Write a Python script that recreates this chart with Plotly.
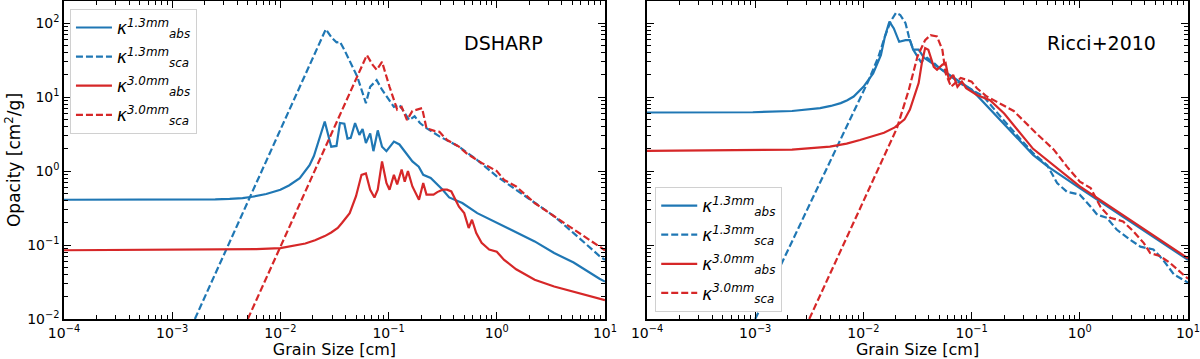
import plotly.graph_objects as go

# ---------------- data ---------------- #

# DSHARP opacities [cm^2/g] vs grain size [cm]
dsharp_abs13_a = [1e-4, 1.5e-3, 2.5e-3, 3.4e-3, 4.47e-3, 5.5e-3, 7.4e-3, 1e-2, 1.2e-2, 1.51e-2,
                  1.86e-2, 2.04e-2, 2.24e-2, 2.57e-2, 2.95e-2, 3.3e-2, 3.55e-2, 3.9e-2, 4.17e-2, 4.47e-2,
                  4.9e-2, 5.37e-2, 5.75e-2, 6.17e-2, 6.76e-2, 7.24e-2, 7.94e-2, 8.7e-2, 9.55e-2, 0.112,
                  0.126, 0.145, 0.166, 0.19, 0.209, 0.245, 0.275, 0.316, 0.363, 0.48,
                  0.66, 1.0, 1.51, 2.24, 3.39, 5.13, 8.9, 10.0]
dsharp_abs13_k = [0.41, 0.41, 0.415, 0.42, 0.43, 0.45, 0.49, 0.56, 0.64, 0.8,
                  1.2, 1.6, 2.4, 4.68, 2.14, 2.19, 4.47, 4.37, 2.75, 2.82,
                  4.47, 3.09, 3.72, 2.4, 3.24, 1.86, 3.55, 2.14, 1.86, 2.51,
                  2.29, 1.74, 1.35, 1.15, 0.89, 0.81, 0.69, 0.56, 0.44, 0.37,
                  0.27, 0.20, 0.15, 0.112, 0.078, 0.058, 0.035, 0.032]

dsharp_sca13_a = [1.62e-3, 2.63e-2, 3.0e-2, 3.3e-2, 3.55e-2, 3.9e-2, 5.13e-2, 6.17e-2, 6.76e-2, 7.76e-2,
                  8.7e-2, 0.112, 0.126, 0.155, 0.174, 0.195, 0.224, 0.295, 0.447, 0.66,
                  1.0, 1.51, 2.24, 3.39, 5.13, 8.9, 10.0]
dsharp_sca13_k = [0.01, 83, 63, 55, 56, 43.7, 19, 8.3, 13.8, 17,
                  12.6, 7.4, 7.9, 4.9, 5.5, 4.47, 3.8, 2.95, 2.14, 1.41,
                  0.85, 0.56, 0.37, 0.245, 0.145, 0.071, 0.063]

dsharp_abs30_a = [1e-4, 3.4e-3, 6e-3, 1e-2, 1.32e-2, 1.7e-2, 2.09e-2, 2.57e-2, 2.95e-2, 3.39e-2,
                  3.72e-2, 4.37e-2, 5.0e-2, 5.62e-2, 6.17e-2, 6.76e-2, 7.4e-2, 7.94e-2, 8.7e-2, 9.55e-2,
                  0.102, 0.112, 0.12, 0.132, 0.141, 0.151, 0.166, 0.191, 0.209, 0.224,
                  0.26, 0.282, 0.316, 0.347, 0.38, 0.447, 0.5, 0.55, 0.59, 0.646,
                  0.724, 0.85, 1.0, 1.17, 1.51, 2.24, 3.39, 5.13, 10.0]
dsharp_abs30_k = [0.085, 0.087, 0.088, 0.091, 0.097, 0.105, 0.116, 0.132, 0.148, 0.17,
                  0.2, 0.27, 0.457, 0.89, 0.93, 0.56, 0.44, 0.56, 1.35, 0.69,
                  0.56, 0.89, 0.66, 1.05, 0.72, 1.0, 0.62, 0.41, 0.69, 0.48,
                  0.48, 0.52, 0.56, 0.56, 0.53, 0.33, 0.27, 0.17, 0.22, 0.145,
                  0.107, 0.087, 0.081, 0.063, 0.047, 0.034, 0.0275, 0.0234, 0.018]

dsharp_sca30_a = [5.0e-3, 6.3e-2, 7.1e-2, 7.76e-2, 8.7e-2, 0.102, 0.12, 0.132, 0.148, 0.166,
                  0.204, 0.224, 0.269, 0.295, 0.347, 0.447, 0.525, 0.724, 1.0, 1.17,
                  1.51, 2.24, 3.39, 5.13, 10.0]
dsharp_sca30_k = [0.01, 37, 27.5, 23.4, 30, 13.8, 6.8, 7.4, 4.9, 6.5,
                  7.1, 3.8, 3.47, 3.4, 2.63, 2.14, 1.74, 1.29, 1.0, 0.76,
                  0.62, 0.37, 0.245, 0.162, 0.085]

# Ricci+2010 opacities
ricci_abs13_a = [1e-4, 9.5e-4, 2.19e-3, 3.16e-3, 3.98e-3, 5.0e-3, 6.17e-3, 7.1e-3, 8.13e-3, 1e-2,
                 1.23e-2, 1.45e-2, 1.58e-2, 1.74e-2, 1.91e-2, 2.14e-2, 2.45e-2, 2.69e-2, 2.88e-2, 3.24e-2,
                 3.63e-2, 0.1, 0.37, 0.5, 1.0, 10.0]
ricci_abs13_k = [6.2, 6.25, 6.5, 6.8, 7.1, 7.6, 8.3, 9.1, 10.2, 13.8,
                 20.9, 37, 66, 105, 85, 56, 59, 59, 44, 44,
                 34, 12.6, 1.66, 1.17, 0.59, 0.063]

ricci_sca13_a = [1e-3, 1e-2, 1.12e-2, 1.38e-2, 1.58e-2, 1.78e-2, 2.0e-2, 2.19e-2, 2.45e-2, 2.63e-2,
                 2.88e-2, 3.39e-2, 3.89e-2, 4.47e-2, 4.9e-2, 6.17e-2, 7.76e-2, 0.1, 0.129, 0.19,
                 0.37, 0.5, 0.617, 0.76, 1.0, 1.26, 1.45, 1.78, 2.19, 2.95,
                 3.63, 4.79, 5.89, 7.41, 10.0]
ricci_sca13_k = [0.01, 11.7, 17, 35.5, 66, 105, 138, 129, 100, 66,
                 44, 30, 34, 29, 25.7, 20, 15.5, 12.6, 10.2, 5.2,
                 1.75, 1.2, 0.69, 0.525, 0.48, 0.33, 0.257, 0.234, 0.162, 0.117,
                 0.095, 0.087, 0.063, 0.040, 0.031]

ricci_abs30_a = [1e-4, 2.19e-3, 4.9e-3, 7e-3, 9.3e-3, 1.2e-2, 1.55e-2, 1.95e-2, 2.4e-2, 2.69e-2,
                 3.02e-2, 3.24e-2, 3.47e-2, 3.72e-2, 3.98e-2, 4.47e-2, 4.79e-2, 5.37e-2, 5.75e-2, 6.17e-2,
                 6.76e-2, 7.4e-2, 8.13e-2, 8.9e-2, 0.112, 0.148, 0.2, 0.37, 1.0, 10.0]
ricci_abs30_k = [1.88, 1.95, 2.14, 2.35, 2.63, 2.95, 3.3, 3.9, 5.0, 6.8,
                 11, 15.5, 29, 46, 43.7, 25.7, 23.4, 27.5, 29, 17,
                 20, 13.8, 16.2, 13.2, 10.7, 9.1, 6.0, 2.0, 0.62, 0.066]

ricci_sca30_a = [3.16e-3, 2.04e-2, 2.63e-2, 3.16e-2, 3.72e-2, 4.17e-2, 4.79e-2, 5.37e-2, 5.75e-2, 6.46e-2,
                 7.94e-2, 9.1e-2, 0.1, 0.112, 0.138, 0.17, 0.245, 0.4, 0.575, 0.76,
                 1.0, 1.26, 1.55, 1.91, 2.51, 3.16, 3.89, 4.47, 5.5, 6.76, 10.0]
ricci_sca30_k = [0.01, 3.8, 12.6, 35.5, 59, 69, 66, 43.7, 21, 13.8,
                 18.2, 17, 16.2, 13.2, 10.2, 8.7, 6.5, 3.2, 1.95, 1.15,
                 0.72, 0.59, 0.33, 0.234, 0.209, 0.151, 0.107, 0.078, 0.071, 0.058, 0.035]

labels = ["<i>κ</i><sup><i>1.3mm</i></sup><sub><i>abs</i></sub>",
          "<i>κ</i><sup><i>1.3mm</i></sup><sub><i>sca</i></sub>",
          "<i>κ</i><sup><i>3.0mm</i></sup><sub><i>abs</i></sub>",
          "<i>κ</i><sup><i>3.0mm</i></sup><sub><i>sca</i></sub>"]

panel_names = ["DSHARP", "Ricci+2010"]

x_tickvals = [1e-4, 1e-3, 1e-2, 1e-1, 1, 10]
x_ticktext = ["10<sup>−4</sup>", "10<sup>−3</sup>", "10<sup>−2</sup>",
              "10<sup>−1</sup>", "10<sup>0</sup>", "10<sup>1</sup>"]
y_tickvals = [1e-2, 1e-1, 1, 10, 100]
y_ticktext = ["10<sup>−2</sup>", "10<sup>−1</sup>", "10<sup>0</sup>",
              "10<sup>1</sup>", "10<sup>2</sup>"]

# ---------------------------------------------------------------- #

BLUE = '#1f77b4'
RED = '#d62728'
FONT = 'DejaVu Sans'

fig = go.Figure()

panels = [
    [(dsharp_abs13_a, dsharp_abs13_k), (dsharp_sca13_a, dsharp_sca13_k),
     (dsharp_abs30_a, dsharp_abs30_k), (dsharp_sca30_a, dsharp_sca30_k)],
    [(ricci_abs13_a, ricci_abs13_k), (ricci_sca13_a, ricci_sca13_k),
     (ricci_abs30_a, ricci_abs30_k), (ricci_sca30_a, ricci_sca30_k)],
]
styles = [(BLUE, 'solid'), (BLUE, '7px,3px'), (RED, 'solid'), (RED, '7px,3px')]

for p, curves in enumerate(panels):
    for i, (a, k) in enumerate(curves):
        color, dash = styles[i]
        fig.add_trace(go.Scatter(
            x=a, y=k, mode='lines', name=labels[i],
            line=dict(color=color, width=2.2, dash=dash),
            xaxis='x' if p == 0 else 'x2',
            yaxis='y' if p == 0 else 'y2',
            legend='legend' if p == 0 else 'legend2',
            legendgroup=f'{p}-{i}',
        ))

minor_x = [m * 10.0 ** e for e in range(-4, 1) for m in range(2, 10)]
minor_y = [m * 10.0 ** e for e in range(-2, 3) for m in range(2, 10)]
minor_style = dict(ticks='inside', ticklen=4, tickwidth=1, tickcolor='black', showgrid=False)

axis_common = dict(
    type='log', showline=True, linecolor='black', linewidth=1.5, mirror='ticks',
    ticks='inside', ticklen=7, tickwidth=1.2, tickcolor='black',
    showgrid=False, zeroline=False, tickmode='array', automargin=False,
    ticklabeloverflow='allow',
    tickfont=dict(family=FONT, size=14, color='black'),
)
xtitle = dict(text='Grain Size [cm]', font=dict(family=FONT, size=16, color='black'), standoff=2)

legend_common = dict(
    bgcolor='white', bordercolor='#d0d0d0', borderwidth=1,
    font=dict(family=FONT, size=17, color='black'),
    tracegroupgap=4, itemwidth=36, xanchor='left', yanchor='top',
)

fig.update_layout(
    width=1200, height=359,
    margin=dict(l=64, r=12, t=1, b=40),
    plot_bgcolor='white', paper_bgcolor='white',
    showlegend=True,
    xaxis=dict(axis_common, domain=[0, 0.4813], range=[-4, 1], anchor='y',
               tickvals=x_tickvals, ticktext=x_ticktext, title=xtitle,
               minor=dict(minor_style, tickvals=minor_x)),
    xaxis2=dict(axis_common, domain=[0.5187, 1], range=[-4, 1], anchor='y2',
                tickvals=x_tickvals, ticktext=x_ticktext, title=xtitle,
                minor=dict(minor_style, tickvals=minor_x)),
    yaxis=dict(axis_common, range=[-2, 2.3], anchor='x',
               tickvals=y_tickvals, ticktext=y_ticktext,
               minor=dict(minor_style, tickvals=minor_y),
               title=dict(text='Opacity [cm<sup>2</sup>/g]',
                          font=dict(family=FONT, size=17, color='black'), standoff=2)),
    yaxis2=dict(axis_common, range=[-2, 2.3], anchor='x2',
                tickvals=y_tickvals, ticktext=y_ticktext, showticklabels=False,
                minor=dict(minor_style, tickvals=minor_y)),
    legend=dict(legend_common, x=0.0053, y=0.975),
    legend2=dict(legend_common, x=0.526, y=0.415),
)

for name, xpos in zip(panel_names, [0.391, 0.9226]):
    fig.add_annotation(text=name, x=xpos, y=0.868, xref='paper', yref='paper',
                       xanchor='center', yanchor='middle', showarrow=False,
                       font=dict(family=FONT, size=19, color='black'))

# the default page margin would push the figure 8px off the window
fig.write_html("out.html", config={'displayModeBar': False},
               post_script="document.body.style.margin='0';")
